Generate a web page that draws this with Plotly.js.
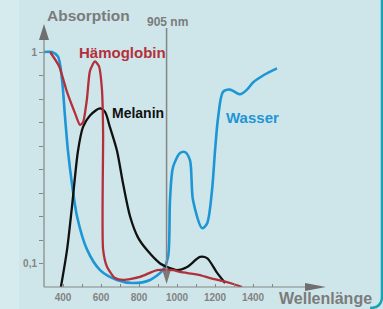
<!DOCTYPE html>
<html>
<head>
<meta charset="utf-8">
<script src="https://cdn.plot.ly/plotly-3.0.1.min.js"></script>
<style>html,body{margin:0;padding:0;background:#cee6ea;}#chart{width:383px;height:309px;}</style>
</head>
<body>
<div id="chart"></div>
<script>
// ---- data (wavelength in nm, absorption relative) ----
const wasserNm  = [300,342,374,395,411,426,447,474,526,595,684,768,858,926,953,963,979,1016,1042,1068,1084,1132,1158,1184,1200,1216,1242,1279,1332,1368,1400,1453,1526];
const wasserAbs = [1.0,1.0,0.98,0.88,0.72,0.58,0.44,0.30,0.16,0.072,0.030,0.017,0.030,0.072,0.13,0.37,0.51,0.57,0.574,0.54,0.37,0.25,0.27,0.41,0.58,0.72,0.83,0.84,0.82,0.84,0.87,0.90,0.93];

const haemoNm  = [332,379,421,463,489,505,526,542,568,589,605,611,611,632,674,716,805,895,979,1016,1121,1174,1279,1342];
const haemoAbs = [1.0,0.94,0.83,0.74,0.69,0.70,0.80,0.92,0.96,0.94,0.84,0.66,0.16,0.085,0.038,0.030,0.043,0.072,0.072,0.064,0.051,0.038,0.017,0.0];

const melaninNm  = [389,421,447,479,505,542,595,621,647,684,716,753,795,842,911,947,1000,1053,1121,1158,1211,1253];
const melaninAbs = [0.0,0.157,0.34,0.58,0.68,0.73,0.76,0.745,0.68,0.58,0.44,0.30,0.21,0.157,0.10,0.085,0.072,0.085,0.128,0.123,0.06,0.017];

const xTickVals  = [300,400,500,600,700,800,900,1000,1100,1200,1300,1400,1500];
const xTickText  = ['','400','','600','','800','','1000','','1200','','1400',''];
const yTickVals  = [0.1,0.2,0.3,0.4,0.5,0.6,0.7,0.8,0.9,1.0];
const yTickText  = ['0,1','','','','','','','','','1'];
const markerNm   = 945;   // position of the "905 nm" line as drawn

const names = ['Hämoglobin','Melanin','Wasser'];

// ---- layout geometry (pixels) ----
const W = 383, H = 309;
const L = 44, R = 330, T = 10, B = 287;
const px = x => (x - L) / (R - L);   // pixel -> paper x
const py = y => (B - y) / (B - T);   // pixel -> paper y

const gray = '#858585';
const blue = '#1e95d4', red = '#b3303b', black = '#111111';

const traces = [
  {x: wasserNm, y: wasserAbs, name: names[2], mode: 'lines', line: {color: blue, width: 2.6, shape: 'spline', smoothing: 0.8}},
  {x: melaninNm, y: melaninAbs, name: names[1], mode: 'lines', line: {color: black, width: 2.3, shape: 'spline', smoothing: 0.8}},
  {x: haemoNm, y: haemoAbs, name: names[0], mode: 'lines', line: {color: red, width: 2.3, shape: 'spline', smoothing: 0.6}}
];

function tri(x1,y1,x2,y2,x3,y3){
  return `M${px(x1)},${py(y1)} L${px(x2)},${py(y2)} L${px(x3)},${py(y3)} Z`;
}

const shapes = [
  {type:'rect', xref:'paper', yref:'paper', x0:px(0), x1:px(19), y0:py(H), y1:py(0), fillcolor:'#d6ebee', line:{width:0}, layer:'below'},
  {type:'path', xref:'paper', yref:'paper', path:`M${px(382)},${py(0)} L${px(382)},${py(296)} Q${px(382)},${py(308)} ${px(370)},${py(308)}`, line:{color:'#1aa3b4', width:2.5}},
  {type:'line', xref:'paper', yref:'paper', x0:px(44), x1:px(44), y0:py(38), y1:py(287), line:{color:gray, width:1.2}},
  {type:'path', xref:'paper', yref:'paper', path:tri(39,40,49,40,44,24), fillcolor:'#6f6f6f', line:{width:0}},
  {type:'line', xref:'paper', yref:'paper', x0:px(44), x1:px(307), y0:py(287), y1:py(287), line:{color:gray, width:1.2}},
  {type:'path', xref:'paper', yref:'paper', path:tri(305,283,305,291,326,287), fillcolor:'#6f6f6f', line:{width:0}},
  {type:'line', xref:'x', yref:'paper', x0:markerNm, x1:markerNm, y0:py(272), y1:py(28), line:{color:gray, width:1.5}},
];
const mx = L + (markerNm - 300) / 1505 * (R - L);
shapes.push({type:'path', xref:'paper', yref:'paper', path:tri(mx-4,271,mx+4,271,mx,284), fillcolor:'#7a7a7a', line:{width:0}});

const fnt = (size, color) => ({family:'Liberation Sans, Arial, sans-serif', size:size, color:color, weight:'bold'});
const ann = (text, x, y, size, color, anchor) => ({text:'<b>'+text+'</b>', xref:'paper', yref:'paper', x:px(x), y:py(y), xanchor:anchor||'left', yanchor:'middle', showarrow:false, font:fnt(size,color)});

const annotations = [
  ann('Absorption', 45, 15, 15.5, '#7b7b7b'),
  ann('905 nm', 145, 22, 12, '#7b7b7b'),
  ann(names[0], 77, 52, 15, red),
  ann(names[1], 110, 113, 14, black),
  ann(names[2], 224, 117, 15, blue),
  ann('Wellenlänge', 277, 298, 16, '#7b7b7b'),
];

const layout = {
  width: W, height: H,
  margin: {l: L, r: W - R, t: T, b: H - B, pad: 0},
  paper_bgcolor: '#cee6ea',
  plot_bgcolor: 'rgba(0,0,0,0)',
  showlegend: false,
  xaxis: {range: [300, 1805], showgrid: false, zeroline: false, showline: false,
          tickmode: 'array', tickvals: xTickVals, ticktext: xTickText,
          ticks: 'inside', ticklen: 3, tickcolor: gray, tickwidth: 1,
          ticklabelstandoff: 3,
          tickfont: fnt(10, '#838383'), fixedrange: true},
  yaxis: {range: [0, (B - T) / 235], showgrid: false, zeroline: false, showline: false,
          tickmode: 'array', tickvals: yTickVals, ticktext: yTickText,
          ticks: 'outside', ticklen: 4, tickcolor: gray, tickwidth: 1,
          tickfont: fnt(10, '#838383'), fixedrange: true},
  shapes: shapes,
  annotations: annotations
};

Plotly.newPlot('chart', traces, layout, {staticPlot: true, displayModeBar: false});
</script>
</body>
</html>
